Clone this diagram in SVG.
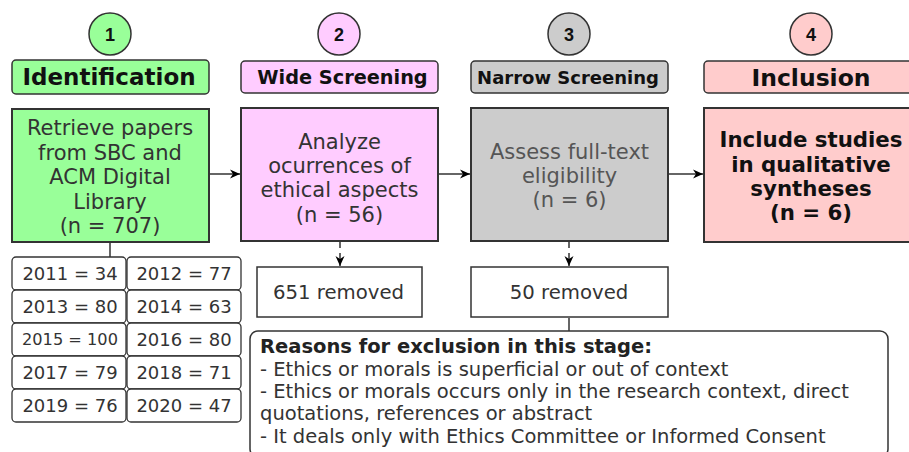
<svg xmlns="http://www.w3.org/2000/svg" width="909" height="452" viewBox="0 0 909 452">
<defs>
<marker id="arr" viewBox="0 0 10 10" refX="10" refY="5" markerWidth="10" markerHeight="10" markerUnits="userSpaceOnUse" orient="auto">
<path d="M0,0.5 L10,5 L0,9.5 L3,5 Z" fill="#000"/>
</marker>
<style>
.box{stroke:#333;stroke-width:2}
.hdr{stroke:#333;stroke-width:1.5}
.circ{stroke:#333;stroke-width:1.5}
.yr{fill:#fff;stroke:#333;stroke-width:1.3}
.t{font-family:"DejaVu Sans",Verdana,sans-serif;text-anchor:middle;fill:#333}
.tb{font-family:"DejaVu Sans",Verdana,sans-serif;font-weight:bold;text-anchor:middle;fill:#111}
.num{font-family:"Liberation Sans",Arial,sans-serif;font-weight:bold;font-size:18px;text-anchor:middle;fill:#111}
.y{font-family:"DejaVu Sans",Verdana,sans-serif;font-size:18px;text-anchor:middle;fill:#333}
.r{font-family:"DejaVu Sans",Verdana,sans-serif;font-size:19.5px;fill:#333}
.conn{stroke:#333;stroke-width:1.5;fill:none}
</style>
</defs>
<rect width="909" height="452" fill="#fff"/>

<g id="step1">
<circle class="circ" cx="110" cy="34" r="21" fill="#99ff99"/>
<text class="num" x="110" y="40.5">1</text>
<rect class="hdr" x="12" y="60" width="197" height="34" rx="4" fill="#99ff99"/>
<text class="tb" x="109" y="85" font-size="23">Identification</text>
</g>
<g id="step2">
<circle class="circ" cx="339" cy="34" r="21" fill="#ffccff"/>
<text class="num" x="339" y="40.5">2</text>
<rect class="hdr" x="241" y="61" width="197" height="32" rx="4" fill="#ffccff"/>
<text class="tb" x="342.5" y="84" font-size="19.3">Wide Screening</text>
</g>
<g id="step3">
<circle class="circ" cx="569" cy="34" r="21" fill="#cccccc"/>
<text class="num" x="569" y="40.5">3</text>
<rect class="hdr" x="471" y="61" width="197" height="32" rx="4" fill="#cccccc"/>
<text class="tb" x="568" y="83.5" font-size="18">Narrow Screening</text>
</g>
<g id="step4">
<circle class="circ" cx="811" cy="34" r="21" fill="#ffcccc"/>
<text class="num" x="811" y="40.5">4</text>
<rect class="hdr" x="704" y="61" width="210" height="32" rx="4" fill="#ffcccc"/>
<text class="tb" x="811" y="85.5" font-size="23.5">Inclusion</text>
</g>

<g id="identify">
<rect class="box" x="12" y="109" width="197" height="133" fill="#99ff99"/>
<text class="t" font-size="21" x="110" y="135">Retrieve papers</text>
<text class="t" font-size="21" x="110" y="159.5">from SBC and</text>
<text class="t" font-size="21" x="110" y="184">ACM Digital</text>
<text class="t" font-size="21" x="110" y="208.5">Library</text>
<text class="t" font-size="21" x="110" y="233">(n = 707)</text>
</g>
<g id="analyze">
<rect class="box" x="241" y="108" width="197" height="133" fill="#ffccff"/>
<text class="t" font-size="21" x="339.5" y="149">Analyze</text>
<text class="t" font-size="21" x="339.5" y="173">ocurrences of</text>
<text class="t" font-size="21" x="339.5" y="197">ethical aspects</text>
<text class="t" font-size="21" x="339.5" y="222">(n = 56)</text>
</g>
<g id="assess">
<rect class="box" x="471" y="108" width="197" height="133" fill="#cccccc"/>
<text class="t" font-size="21" x="569.5" y="159" style="fill:#555">Assess full-text</text>
<text class="t" font-size="21" x="569.5" y="183" style="fill:#555">eligibility</text>
<text class="t" font-size="21" x="569.5" y="207" style="fill:#555">(n = 6)</text>
</g>
<g id="include">
<rect class="box" x="704" y="108" width="210" height="134" fill="#ffcccc"/>
<text class="tb" font-size="21.3" x="811" y="147">Include studies</text>
<text class="tb" font-size="21.3" x="811" y="172">in qualitative</text>
<text class="tb" font-size="21.3" x="811" y="196">syntheses</text>
<text class="tb" font-size="21.3" x="811" y="220">(n = 6)</text>
</g>

<g id="years">
<rect class="yr" x="12" y="257" width="114" height="33" rx="4"/>
<rect class="yr" x="127" y="257" width="114" height="33" rx="4"/>
<rect class="yr" x="12" y="290" width="114" height="33" rx="4"/>
<rect class="yr" x="127" y="290" width="114" height="33" rx="4"/>
<rect class="yr" x="12" y="323" width="114" height="33" rx="4"/>
<rect class="yr" x="127" y="323" width="114" height="33" rx="4"/>
<rect class="yr" x="12" y="356" width="114" height="33" rx="4"/>
<rect class="yr" x="127" y="356" width="114" height="33" rx="4"/>
<rect class="yr" x="12" y="389" width="114" height="33" rx="4"/>
<rect class="yr" x="127" y="389" width="114" height="33" rx="4"/>
<text class="y" x="70" y="280">2011 = 34</text>
<text class="y" x="184" y="280">2012 = 77</text>
<text class="y" x="70" y="313">2013 = 80</text>
<text class="y" x="184" y="313">2014 = 63</text>
<text class="y" x="70" y="345" style="font-size:16.2px">2015 = 100</text>
<text class="y" x="184" y="346">2016 = 80</text>
<text class="y" x="70" y="379">2017 = 79</text>
<text class="y" x="184" y="379">2018 = 71</text>
<text class="y" x="70" y="412">2019 = 76</text>
<text class="y" x="184" y="412">2020 = 47</text>
</g>

<g id="removed1">
<rect x="257" y="267" width="165" height="50" fill="#fff" stroke="#333" stroke-width="1.5"/>
<text class="t" font-size="19.7" x="338.5" y="299">651 removed</text>
</g>
<g id="removed2">
<rect x="471" y="267" width="197" height="50" fill="#fff" stroke="#333" stroke-width="1.5"/>
<text class="t" font-size="19.7" x="569" y="299">50 removed</text>
</g>

<g id="reasons">
<rect x="250" y="331" width="638" height="126" rx="8" fill="#fff" stroke="#333" stroke-width="1.5"/>
<text class="r" x="260" y="353" font-weight="bold" style="fill:#222">Reasons for exclusion in this stage:</text>
<text class="r" x="260" y="376">- Ethics or morals is superficial or out of context</text>
<text class="r" x="260" y="398">- Ethics or morals occurs only in the research context, direct</text>
<text class="r" x="260" y="420">quotations, references or abstract</text>
<text class="r" x="260" y="443">- It deals only with Ethics Committee or Informed Consent</text>
</g>

<g id="connectors">
<line class="conn" x1="209" y1="174" x2="240" y2="174" marker-end="url(#arr)"/>
<line class="conn" x1="438" y1="174" x2="470" y2="174" marker-end="url(#arr)"/>
<line class="conn" x1="668" y1="174" x2="703" y2="174" marker-end="url(#arr)"/>
<line class="conn" x1="110" y1="243" x2="110" y2="257"/>
<line class="conn" x1="340" y1="242" x2="340" y2="266" stroke-dasharray="6,5" marker-end="url(#arr)"/>
<line class="conn" x1="569" y1="242" x2="569" y2="266" stroke-dasharray="6,5" marker-end="url(#arr)"/>
<line class="conn" x1="569" y1="318" x2="569" y2="331"/>
</g>
</svg>
